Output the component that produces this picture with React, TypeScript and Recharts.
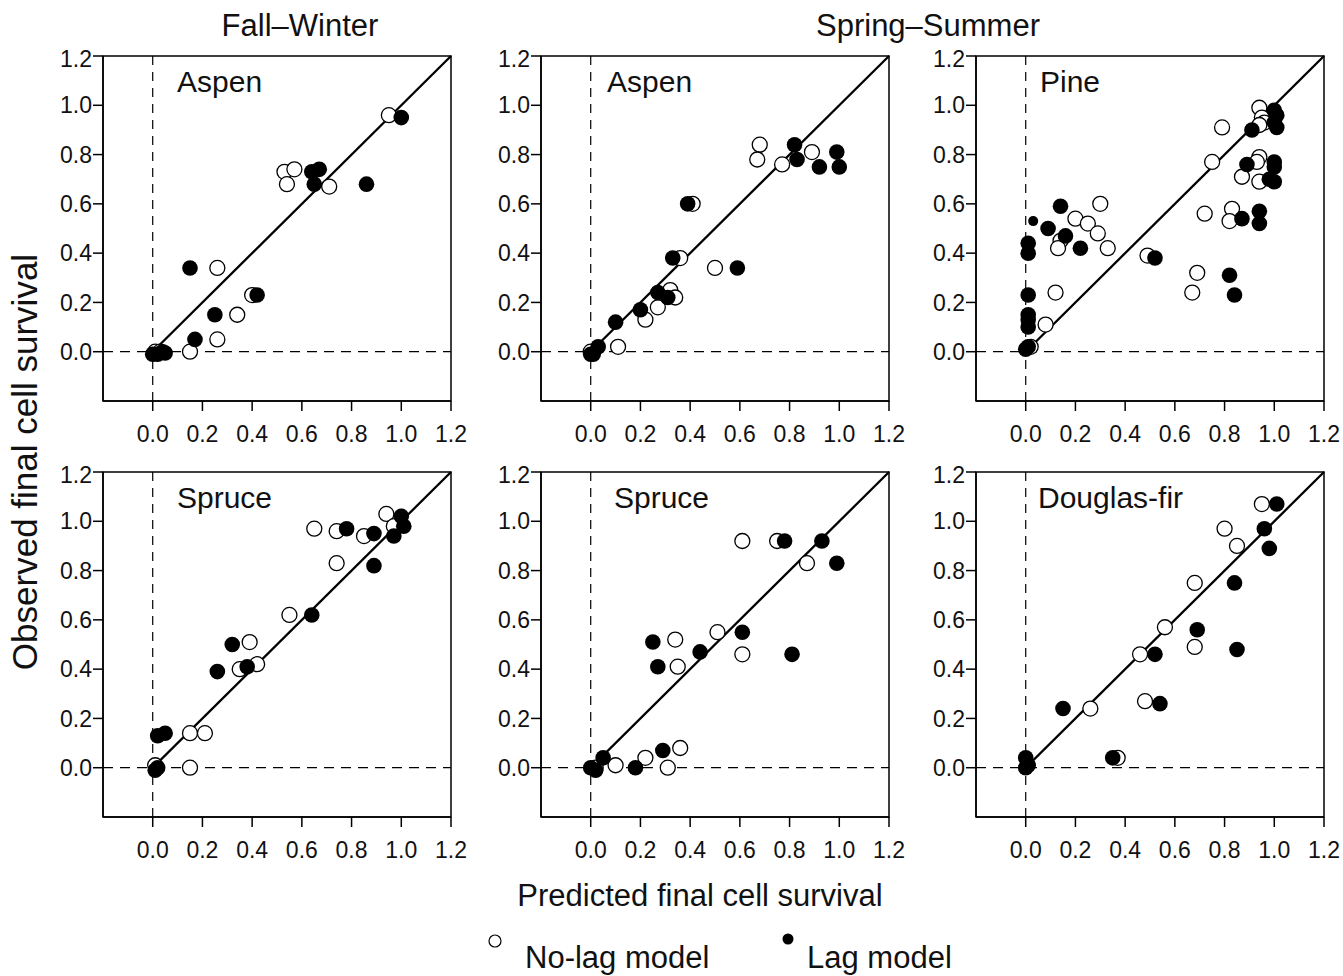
import { ScatterChart, Scatter, XAxis, YAxis, ReferenceLine, ReferenceArea } from 'recharts';

type Pt = { x: number; y: number };
const pts = (rows: number[][]): Pt[] => rows.map(([x, y]) => ({ x, y }));

const fwAspenNoLag = pts([
  [0.95, 0.96], [0.53, 0.73], [0.57, 0.74], [0.54, 0.68], [0.71, 0.67], [0.26, 0.34],
  [0.40, 0.23], [0.34, 0.15], [0.26, 0.05], [0.15, 0.0], [0.01, 0.0], [0.03, 0.0],
]);
const fwAspenLag = pts([
  [1.0, 0.95], [0.64, 0.73], [0.67, 0.74], [0.65, 0.68], [0.86, 0.68], [0.15, 0.34],
  [0.42, 0.23], [0.25, 0.15], [0.17, 0.05], [0.0, -0.01], [0.02, -0.01], [0.04, 0.0], [0.05, -0.005],
]);

const ssAspenNoLag = pts([
  [0.68, 0.84], [0.67, 0.78], [0.77, 0.76], [0.89, 0.81], [0.41, 0.6], [0.36, 0.38],
  [0.5, 0.34], [0.32, 0.25], [0.34, 0.22], [0.27, 0.18], [0.22, 0.13], [0.11, 0.02], [0.0, 0.0],
]);
const ssAspenLag = pts([
  [0.82, 0.84], [0.83, 0.78], [0.92, 0.75], [0.99, 0.81], [1.0, 0.75], [0.39, 0.6],
  [0.33, 0.38], [0.59, 0.34], [0.27, 0.24], [0.31, 0.22], [0.2, 0.17], [0.1, 0.12],
  [0.03, 0.02], [0.01, -0.01], [0.0, -0.01],
]);

const ssPineNoLag = pts([
  [0.94, 0.99], [0.79, 0.91], [0.95, 0.95], [0.96, 0.93], [0.94, 0.92], [0.75, 0.77],
  [0.94, 0.79], [0.93, 0.77], [0.87, 0.71], [0.94, 0.69], [0.72, 0.56], [0.83, 0.58],
  [0.82, 0.53], [0.3, 0.6], [0.2, 0.54], [0.25, 0.52], [0.29, 0.48], [0.14, 0.45],
  [0.13, 0.42], [0.33, 0.42], [0.49, 0.39], [0.69, 0.32], [0.67, 0.24], [0.12, 0.24],
  [0.08, 0.11], [0.02, 0.02],
]);
const ssPineLag = pts([
  [1.0, 0.98], [1.01, 0.96], [1.0, 0.93], [1.01, 0.91], [0.91, 0.9], [1.0, 0.77],
  [1.0, 0.75], [0.89, 0.76], [0.98, 0.7], [1.0, 0.69], [0.87, 0.54], [0.94, 0.57],
  [0.94, 0.52], [0.14, 0.59], [0.09, 0.5], [0.16, 0.47], [0.22, 0.42],
  [0.01, 0.44], [0.01, 0.4], [0.52, 0.38], [0.82, 0.31], [0.84, 0.23], [0.01, 0.23],
  [0.01, 0.15], [0.01, 0.13], [0.01, 0.1], [0.0, 0.01], [0.01, 0.02],
]);
// one smaller filled mark in the pine panel
const ssPineLagSmall = pts([[0.03, 0.53]]);

const fwSpruceNoLag = pts([
  [0.94, 1.03], [0.97, 0.98], [0.65, 0.97], [0.74, 0.96], [0.85, 0.94], [0.74, 0.83],
  [0.55, 0.62], [0.39, 0.51], [0.35, 0.4], [0.42, 0.42], [0.15, 0.14], [0.21, 0.14],
  [0.15, 0.0], [0.01, 0.01],
]);
const fwSpruceLag = pts([
  [1.0, 1.02], [1.01, 0.98], [0.97, 0.94], [0.78, 0.97], [0.89, 0.95], [0.89, 0.82],
  [0.64, 0.62], [0.32, 0.5], [0.38, 0.41], [0.26, 0.39], [0.02, 0.13], [0.05, 0.14],
  [0.01, -0.01], [0.02, 0.0],
]);

const ssSpruceNoLag = pts([
  [0.61, 0.92], [0.75, 0.92], [0.87, 0.83], [0.51, 0.55], [0.61, 0.46], [0.34, 0.52],
  [0.35, 0.41], [0.36, 0.08], [0.22, 0.04], [0.1, 0.01], [0.31, 0.0], [0.02, 0.0],
]);
const ssSpruceLag = pts([
  [0.78, 0.92], [0.93, 0.92], [0.99, 0.83], [0.61, 0.55], [0.44, 0.47], [0.81, 0.46],
  [0.25, 0.51], [0.27, 0.41], [0.29, 0.07], [0.05, 0.04], [0.18, 0.0], [0.0, 0.0], [0.02, -0.01],
]);

const ssFirNoLag = pts([
  [0.95, 1.07], [0.8, 0.97], [0.85, 0.9], [0.68, 0.75], [0.56, 0.57], [0.46, 0.46],
  [0.68, 0.49], [0.48, 0.27], [0.26, 0.24], [0.37, 0.04],
]);
const ssFirLag = pts([
  [1.01, 1.07], [0.96, 0.97], [0.98, 0.89], [0.84, 0.75], [0.69, 0.56], [0.52, 0.46],
  [0.85, 0.48], [0.54, 0.26], [0.15, 0.24], [0.35, 0.04], [0.0, 0.04], [0.0, 0.0], [0.01, 0.01],
]);

const axisTicks = [0, 0.2, 0.4, 0.6, 0.8, 1.0, 1.2];

const FONT = '"Liberation Sans", Arial, Helvetica, sans-serif';
const PLOT_W = 348;
const PLOT_H = 345;
const Y_AXIS_W = 50;
const X_AXIS_H = 50;
const M_TOP = 10;
const M_RIGHT = 24;

const panels = [
  { name: 'Aspen', noLag: fwAspenNoLag, lag: fwAspenLag, small: [] as Pt[], left: 103, top: 56, labelDx: 74 },
  { name: 'Aspen', noLag: ssAspenNoLag, lag: ssAspenLag, small: [] as Pt[], left: 541, top: 56, labelDx: 66 },
  { name: 'Pine', noLag: ssPineNoLag, lag: ssPineLag, small: ssPineLagSmall, left: 976, top: 56, labelDx: 64 },
  { name: 'Spruce', noLag: fwSpruceNoLag, lag: fwSpruceLag, small: [] as Pt[], left: 103, top: 472, labelDx: 74 },
  { name: 'Spruce', noLag: ssSpruceNoLag, lag: ssSpruceLag, small: [] as Pt[], left: 541, top: 472, labelDx: 73 },
  { name: 'Douglas-fir', noLag: ssFirNoLag, lag: ssFirLag, small: [] as Pt[], left: 976, top: 472, labelDx: 62 },
];

const openDot = (p: any) => (
  <circle cx={p.cx} cy={p.cy} r={7.5} fill="#fff" stroke="#000" strokeWidth={1.3} />
);
const filledDot = (p: any) => <circle cx={p.cx} cy={p.cy} r={7.8} fill="#000" />;
const smallDot = (p: any) => <circle cx={p.cx} cy={p.cy} r={5} fill="#000" />;

const tickStyle = { fontSize: 23, fill: '#111', fontFamily: FONT };

function Panel({ noLag, lag, small, left, top }: { noLag: Pt[]; lag: Pt[]; small: Pt[]; left: number; top: number }) {
  return (
    <div style={{ position: 'absolute', left: left - Y_AXIS_W, top: top - M_TOP }}>
      <ScatterChart
        width={Y_AXIS_W + PLOT_W + M_RIGHT}
        height={M_TOP + PLOT_H + X_AXIS_H}
        margin={{ top: M_TOP, right: M_RIGHT, bottom: 0, left: 0 }}
      >
        <XAxis
          type="number"
          dataKey="x"
          domain={[-0.2, 1.2]}
          ticks={axisTicks}
          allowDataOverflow
          height={X_AXIS_H}
          tickSize={10}
          tickMargin={15}
          tick={tickStyle}
          tickFormatter={(v: number) => v.toFixed(1)}
          stroke="#000"
          strokeWidth={1.5}
        />
        <YAxis
          type="number"
          dataKey="y"
          domain={[-0.2, 1.2]}
          ticks={axisTicks}
          allowDataOverflow
          width={Y_AXIS_W}
          tickSize={10}
          tickMargin={1}
          tick={tickStyle}
          tickFormatter={(v: number) => v.toFixed(1)}
          stroke="#000"
          strokeWidth={1.5}
        />
        <ReferenceArea x1={-0.2} x2={1.2} y1={-0.2} y2={1.2} fill="none" fillOpacity={0} stroke="#000" strokeWidth={1.5} />
        <ReferenceLine x={0} stroke="#000" strokeWidth={1.2} strokeDasharray="9 7" />
        <ReferenceLine y={0} stroke="#000" strokeWidth={1.2} strokeDasharray="10 7" />
        <ReferenceLine segment={[{ x: 0, y: 0 }, { x: 1.2, y: 1.2 }]} stroke="#000" strokeWidth={2.3} />
        <Scatter data={noLag} shape={openDot} isAnimationActive={false} />
        <Scatter data={lag} shape={filledDot} isAnimationActive={false} />
        {small.length > 0 && <Scatter data={small} shape={smallDot} isAnimationActive={false} />}
      </ScatterChart>
    </div>
  );
}

export default function App() {
  return (
    <div style={{ position: 'relative', width: 1343, height: 976, background: '#fff', fontFamily: FONT, overflow: 'hidden' }}>
      <style>{'body{margin:0}'}</style>
      {panels.map((p, i) => (
        <Panel key={i} noLag={p.noLag} lag={p.lag} small={p.small} left={p.left} top={p.top} />
      ))}
      <svg width={1343} height={976} style={{ position: 'absolute', left: 0, top: 0, pointerEvents: 'none' }}>
        <g fontFamily={FONT} fill="#111">
          {panels.map((p, i) => (
            <text key={i} x={p.left + p.labelDx} y={p.top + 36} fontSize={30}>
              {p.name}
            </text>
          ))}
          <text x={300} y={36} fontSize={31} textAnchor="middle">Fall–Winter</text>
          <text x={928} y={36} fontSize={31} textAnchor="middle">Spring–Summer</text>
          <text x={700} y={906} fontSize={31} textAnchor="middle">Predicted final cell survival</text>
          <text transform="translate(37,462) rotate(-90)" fontSize={35} textAnchor="middle">
            Observed final cell survival
          </text>
          <circle cx={495} cy={941} r={6} fill="#fff" stroke="#000" strokeWidth={1.2} />
          <text x={525} y={968} fontSize={31}>No-lag model</text>
          <circle cx={788} cy={939} r={5.5} fill="#000" />
          <text x={807} y={968} fontSize={31}>Lag model</text>
        </g>
      </svg>
    </div>
  );
}
